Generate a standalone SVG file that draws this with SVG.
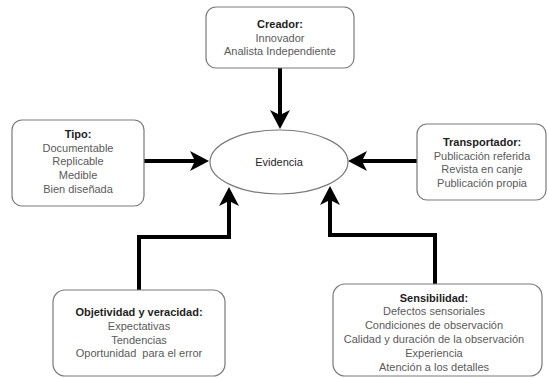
<svg xmlns="http://www.w3.org/2000/svg" width="549" height="378" viewBox="0 0 549 378">
<style>
.box{fill:#fff;stroke:#7a7a7a;stroke-width:1.2}
.t{font-family:"Liberation Sans",Arial,sans-serif;font-size:11px;fill:#5a5a5a;text-anchor:middle}
.h{font-weight:bold;fill:#1e1e1e}
.c{fill:none;stroke:#000;stroke-width:4}
</style>
<defs>
<marker id="ah" markerUnits="userSpaceOnUse" viewBox="-15 -15 30 30" markerWidth="30" markerHeight="30" refX="0" refY="0" orient="auto" overflow="visible">
<path d="M11,0 L-8,-10 L-3,0 L-8,10 Z" fill="#000"/>
</marker>
</defs>
<rect width="549" height="378" fill="#fff"/>
<g id="connectors">
<path class="c" d="M280,68 V118" marker-end="url(#ah)"/>
<path class="c" d="M144,161 H198" marker-end="url(#ah)"/>
<path class="c" d="M417,161 H359" marker-end="url(#ah)"/>
<path class="c" d="M139,290 V237 H229 V198" marker-end="url(#ah)"/>
<path class="c" d="M435,284 V235 H330 V197" marker-end="url(#ah)"/>
</g>
<g id="evidencia">
<ellipse cx="279" cy="162" rx="69" ry="32" class="box"/>
<text class="t" x="279" y="166" style="fill:#1e1e1e">Evidencia</text>
</g>
<g id="creador">
<rect class="box" x="206" y="7" width="148" height="61" rx="10"/>
<text class="t h" x="280" y="28">Creador:</text>
<text class="t" x="280" y="42">Innovador</text>
<text class="t" x="280" y="55">Analista Independiente</text>
</g>
<g id="tipo">
<rect class="box" x="12" y="120" width="132" height="86" rx="10"/>
<text class="t h" x="78" y="138">Tipo:</text>
<text class="t" x="78" y="152">Documentable</text>
<text class="t" x="78" y="165">Replicable</text>
<text class="t" x="78" y="179">Medible</text>
<text class="t" x="78" y="193">Bien diseñada</text>
</g>
<g id="transportador">
<rect class="box" x="417" y="124" width="129" height="76" rx="10"/>
<text class="t h" x="482" y="146">Transportador:</text>
<text class="t" x="482" y="160">Publicación referida</text>
<text class="t" x="482" y="173">Revista en canje</text>
<text class="t" x="482" y="187">Publicación propia</text>
</g>
<g id="objetividad">
<rect class="box" x="53" y="290" width="172" height="86" rx="12"/>
<text class="t h" x="139" y="316">Objetividad y veracidad:</text>
<text class="t" x="139" y="330">Expectativas</text>
<text class="t" x="139" y="344">Tendencias</text>
<text class="t" x="139" y="357">Oportunidad&#160; para el error</text>
</g>
<g id="sensibilidad">
<rect class="box" x="333" y="284" width="209" height="92" rx="12"/>
<text class="t h" x="434" y="302">Sensibilidad:</text>
<text class="t" x="434" y="315">Defectos sensoriales</text>
<text class="t" x="434" y="329">Condiciones de observación</text>
<text class="t" x="434" y="343">Calidad y duración de la observación</text>
<text class="t" x="434" y="357">Experiencia</text>
<text class="t" x="434" y="371">Atención a los detalles</text>
</g>
</svg>
